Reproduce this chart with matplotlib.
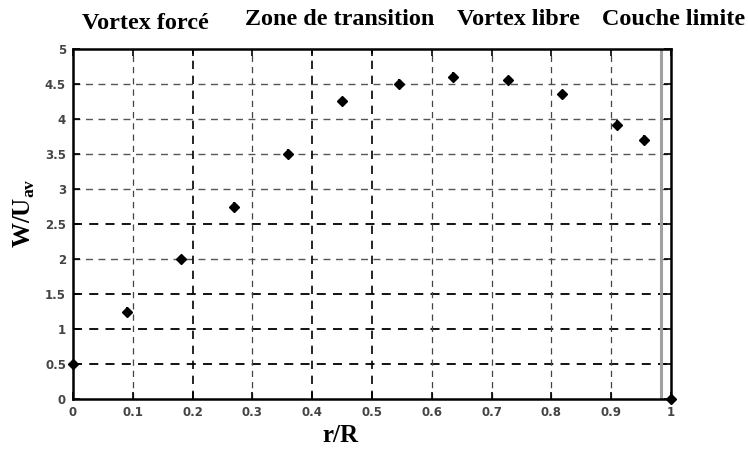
import numpy as np
import matplotlib
matplotlib.use("Agg")
import matplotlib.pyplot as plt

# data
r_over_R = [0.0, 0.09, 0.18, 0.27, 0.36, 0.45, 0.545, 0.636, 0.727, 0.818, 0.909, 0.955, 1.0]
w_over_u = [0.5, 1.25, 2.0, 2.75, 3.5, 4.25, 4.5, 4.6, 4.55, 4.35, 3.92, 3.7, 0.0]
err = [0.05, 0.07, 0.06, 0.07, 0.07, 0.07, 0.07, 0.07, 0.07, 0.07, 0.07, 0.07, 0.05]

x_ticks = [0, 0.1, 0.2, 0.3, 0.4, 0.5, 0.6, 0.7, 0.8, 0.9, 1]
x_ticklabels = ["0", "0.1", "0.2", "0.3", "0.4", "0.5", "0.6", "0.7", "0.8", "0.9", "1"]
y_ticks = [0, 0.5, 1, 1.5, 2, 2.5, 3, 3.5, 4, 4.5, 5]
y_ticklabels = ["0", "0.5", "1", "1.5", "2", "2.5", "3", "3.5", "4", "4.5", "5"]

zones = ["Vortex forcé", "Zone de transition", "Vortex libre", "Couche limite"]
zone_x = [0.194, 0.4545, 0.693, 0.901]
zone_y = [0.935, 0.944, 0.944, 0.944]
wall_x = 0.983

fig = plt.figure(figsize=(7.48, 4.49), dpi=100)
ax = fig.add_axes([0.0976, 0.111, 0.7995, 0.780])

# dashed grid, some lines darker than others like the scanned figure
for y in y_ticks[1:-1]:
    dark = y in (0.5, 1, 1.5, 2.5)
    ax.axhline(y, color="black" if dark else "#555555", lw=1.3 if dark else 1.0,
               ls=(0, (5, 4)), zorder=1)
for x in x_ticks[1:-1]:
    dark = x in (0.2, 0.4, 0.5)
    ax.axvline(x, color="black" if dark else "#444444", lw=1.2 if dark else 0.9,
               ls=(0, (5, 4)), zorder=1)

ax.axvline(wall_x, color="#a0a0a0", lw=2.2, zorder=2)

ax.errorbar(r_over_R, w_over_u, yerr=err, fmt="D", color="black", ms=5,
            elinewidth=1.5, capsize=0, zorder=5, clip_on=False)

ax.set_xlim(0, 1)
ax.set_ylim(0, 5)
ax.set_xticks(x_ticks)
ax.set_xticklabels(x_ticklabels)
ax.set_yticks(y_ticks)
ax.set_yticklabels(y_ticklabels)
ax.tick_params(direction="in", top=True, right=True, length=5, width=1.2,
               labelsize=8.5, labelcolor="#444444", pad=5)
for lab in ax.get_xticklabels() + ax.get_yticklabels():
    lab.set_fontweight("bold")
for s in ax.spines.values():
    s.set_linewidth(1.8)

ax.set_xlabel("r/R", fontsize=18, family="Liberation Serif", fontweight="bold")
ax.set_ylabel(r"W/U$_{\mathregular{av}}$", fontsize=18, family="Liberation Serif",
              fontweight="bold")
ax.xaxis.set_label_coords(0.447, -0.072)
ax.yaxis.set_label_coords(-0.06, 0.53)

for name, zx, zy in zip(zones, zone_x, zone_y):
    fig.text(zx, zy, name, ha="center", va="baseline", fontsize=17.4,
             family="Liberation Serif", fontweight="bold")

fig.savefig("out.png", dpi=100)
